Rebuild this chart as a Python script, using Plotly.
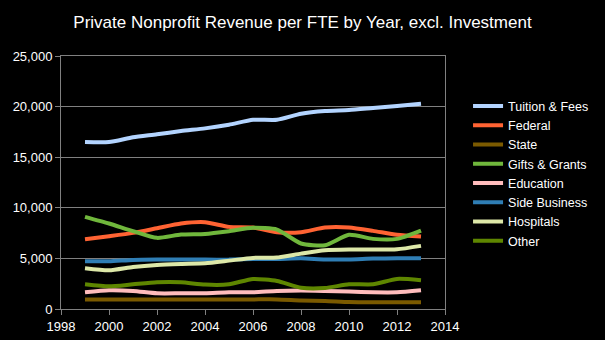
import plotly.graph_objects as go

years = list(range(1999, 2014))
tuition = [16500, 16500, 16970, 17260, 17590, 17850, 18210, 18700, 18700, 19300, 19570, 19660, 19860, 20060, 20290]
federal = [6890, 7190, 7520, 7980, 8445, 8580, 8115, 8050, 7590, 7590, 8050, 8050, 7720, 7330, 7160]
state = [950, 950, 950, 950, 950, 950, 950, 950, 950, 850, 800, 690, 660, 660, 660]
gifts = [9108, 8445, 7700, 7030, 7360, 7420, 7690, 8020, 7850, 6470, 6300, 7330, 6930, 6930, 7750]
education = [1650, 1850, 1780, 1550, 1550, 1550, 1650, 1650, 1780, 1820, 1780, 1720, 1650, 1650, 1850]
side_business = [4715, 4715, 4850, 4880, 4880, 4880, 4880, 4950, 4950, 5010, 4900, 4900, 4980, 5010, 5010]
hospitals = [4020, 3820, 4150, 4350, 4450, 4520, 4780, 5050, 5080, 5470, 5800, 5870, 5870, 5900, 6240]
other = [2440, 2240, 2440, 2640, 2640, 2410, 2440, 2970, 2770, 2110, 2080, 2440, 2440, 2970, 2840]

series = [
    ("Tuition & Fees", tuition, "#b3d4ff"),
    ("Federal", federal, "#ff6333"),
    ("State", state, "#7b5a00"),
    ("Gifts & Grants", gifts, "#70b73c"),
    ("Education", education, "#ffbcbc"),
    ("Side Business", side_business, "#2f7eb5"),
    ("Hospitals", hospitals, "#dde8a8"),
    ("Other", other, "#5e8600"),
]

fig = go.Figure()
for name, vals, color in series:
    fig.add_trace(go.Scatter(x=years, y=vals, name=name, mode="lines",
                             line=dict(color=color, width=4, shape="spline", smoothing=0.6)))

axis_color = "#808080"
fig.update_layout(
    width=605, height=340,
    paper_bgcolor="black", plot_bgcolor="black",
    font=dict(family="Liberation Sans, Arial, sans-serif", color="white", size=13),
    title=dict(text="Private Nonprofit Revenue per FTE by Year, excl. Investment",
               x=0.5, xanchor="center", y=0.935, yanchor="middle",
               font=dict(size=17, color="white")),
    margin=dict(l=61, r=160, t=56, b=31, autoexpand=False),
    legend=dict(x=1.06, xanchor="left", y=0.86, yanchor="top",
                bgcolor="rgba(0,0,0,0)", font=dict(size=12.5, color="white"),
                tracegroupgap=0, itemwidth=30),
    showlegend=True,
)
fig.update_xaxes(range=[1998, 2014], dtick=2, tick0=1998, showgrid=False,
                 showline=True, linecolor=axis_color, linewidth=1, mirror=True,
                 ticks="outside", tickcolor=axis_color, ticklen=5, zeroline=False)
fig.update_yaxes(range=[0, 25000], dtick=5000, tickformat=",d", showgrid=True,
                 gridcolor=axis_color, gridwidth=1,
                 showline=True, linecolor=axis_color, linewidth=1, mirror=True,
                 ticks="outside", tickcolor=axis_color, ticklen=5, zeroline=False)

fig.write_html("out.html")
